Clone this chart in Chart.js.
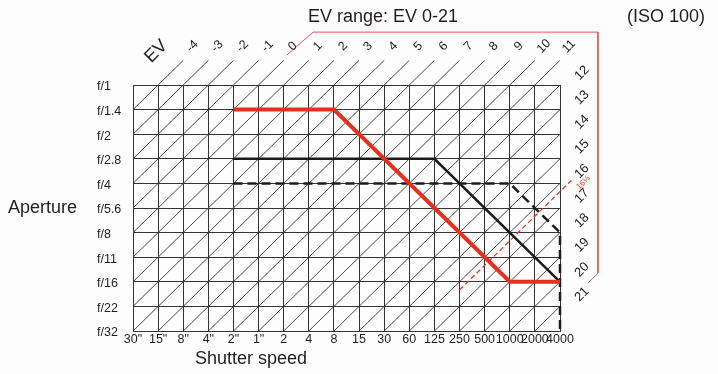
<!DOCTYPE html>
<html>
<head>
  <meta charset="UTF-8">
  <title>EV range</title>
  <script src="https://cdn.jsdelivr.net/npm/chart.js"></script>
  <style>
    html, body { margin: 0; padding: 0; background: #fdfdfd; }
    #wrap { width: 718px; height: 374px; }
  </style>
</head>
<body>
<div id="wrap"><canvas id="evChart" width="718" height="374"></canvas></div>
<script>
  // Axes: shutter speed columns and aperture rows
  const shutterLabels = ['30"', '15"', '8"', '4"', '2"', '1"', '2', '4', '8', '15', '30', '60', '125', '250', '500', '1000', '2000', '4000'];
  const apertureLabels = ['f/1', 'f/1.4', 'f/2', 'f/2.8', 'f/4', 'f/5.6', 'f/8', 'f/11', 'f/16', 'f/22', 'f/32'];

  // EV diagonals (EV at 30" f/1 is -5)
  const evValues = [-4, -3, -2, -1, 0, 1, 2, 3, 4, 5, 6, 7, 8, 9, 10, 11, 12, 13, 14, 15, 16, 17, 18, 19, 20, 21];
  const evAtCorner = -5;

  // metering limit lines
  const redShutter = ['2"', '8', '1000', '4000'];
  const redAperture = ['f/1.4', 'f/1.4', 'f/16', 'f/16'];
  const blackShutter = ['2"', '125', '4000'];
  const blackAperture = ['f/2.8', 'f/2.8', 'f/16'];
  const dashShutter = ['2"', '1000', '4000', '4000'];
  const dashAperture = ['f/4', 'f/4', 'f/8', 'f/32'];

  // EV 16 1/3 limit, drawn from the 250 column up to the right edge
  const flashEV = 16.333;
  const flashLabel = '16⅓';
  const flashFrom = '250';

  // red bracket around the EV range (column / row units)
  const bracketX = [6.13, 7.17, 18.51, 18.51, 18.11];
  const bracketY = [-1.22, -2.15, -2.15, 7.64, 8.05];

  const FONT = '"Liberation Sans Narrow", "Liberation Sans", Arial, sans-serif';
  const INK = '#1e1e1e';
  const RED = '#e5301f';
  const COLS = shutterLabels.length - 1;
  const ROWS = apertureLabels.length - 1;
  const RIGHT_EXT = 0.45;

  function pts(shutters, apertures) {
    return shutters.map((s, i) => ({ x: shutterLabels.indexOf(s), y: apertureLabels.indexOf(apertures[i]) }));
  }

  // one EV line across the grid plus its short extension outside
  function evLine(ev) {
    const s = ev - evAtCorner;
    const lo = s <= ROWS ? { x: 0, y: s } : { x: s - ROWS, y: ROWS };
    const hi = s <= COLS ? { x: s, y: 0 } : { x: COLS, y: s - COLS };
    const ext = s < COLS ? { x: hi.x + 1, y: -1 } : { x: COLS + RIGHT_EXT, y: hi.y - RIGHT_EXT };
    return { lo, hi, ext, top: s < COLS };
  }

  const datasets = [];
  datasets.push({ data: pts(redShutter, redAperture), borderColor: RED, borderWidth: 4, order: 1 });
  datasets.push({ data: pts(blackShutter, blackAperture), borderColor: '#1c1c1c', borderWidth: 2.5, order: 2 });
  datasets.push({ data: pts(dashShutter, dashAperture), borderColor: '#1c1c1c', borderWidth: 2.5, borderDash: [9, 5], order: 2 });

  const fs = flashEV - evAtCorner;
  const fx = shutterLabels.indexOf(flashFrom);
  datasets.push({
    data: [{ x: fx, y: fs - fx }, { x: COLS + RIGHT_EXT, y: fs - COLS - RIGHT_EXT }],
    borderColor: RED, borderWidth: 1.2, borderDash: [5, 3], order: 3
  });
  datasets.push({
    data: bracketX.map((x, i) => ({ x, y: bracketY[i] })),
    borderColor: '#e8564a', borderWidth: 1, order: 3
  });
  evValues.forEach(ev => {
    const l = evLine(ev);
    datasets.push({ data: [l.lo, l.hi, l.ext], borderColor: '#333333', borderWidth: 0.9, order: 5 });
  });
  datasets.forEach(d => {
    d.showLine = true;
    d.pointRadius = 0;
    d.clip = false;
    d.fill = false;
    d.borderJoinStyle = 'miter';
  });

  function rotatedText(ctx, text, x, y, size, color) {
    ctx.save();
    ctx.translate(x, y);
    ctx.rotate(-Math.PI / 4);
    ctx.font = size + 'px ' + FONT;
    ctx.fillStyle = color;
    ctx.textAlign = 'center';
    ctx.textBaseline = 'middle';
    ctx.fillText(text, 0, 0);
    ctx.restore();
  }

  const labelsPlugin = {
    id: 'evLabels',
    afterDraw(chart) {
      const ctx = chart.ctx;
      const xs = chart.scales.x, ys = chart.scales.y;
      const px = v => xs.getPixelForValue(v);
      const py = v => ys.getPixelForValue(v);

      evValues.forEach(ev => {
        const l = evLine(ev);
        if (l.top) {
          rotatedText(ctx, String(ev), px(l.ext.x) + 9, py(l.ext.y) - 14, 12.5, INK);
        } else {
          rotatedText(ctx, String(ev), px(l.hi.x) + 22, py(l.hi.y) - 12, 13, INK);
        }
      });
      rotatedText(ctx, 'EV', px(1) - 2, py(-1) - 9, 18, INK);
      rotatedText(ctx, flashLabel, px(COLS + RIGHT_EXT) + 12, py(fs - COLS - RIGHT_EXT) + 2, 8, RED);

      ctx.save();
      ctx.fillStyle = INK;
      ctx.textBaseline = 'middle';
      ctx.font = '18px ' + FONT;
      ctx.textAlign = 'center';
      ctx.fillText('EV range: EV 0-21', 383, 17);
      ctx.fillText('Shutter speed', 251, 359);
      ctx.textAlign = 'left';
      ctx.fillText('(ISO 100)', 627, 17);
      ctx.fillText('Aperture', 8, 208);
      ctx.restore();
    }
  };

  new Chart(document.getElementById('evChart'), {
    type: 'scatter',
    data: { datasets },
    options: {
      responsive: false,
      animation: false,
      layout: { padding: { left: 97, right: 158, top: 85, bottom: 0 } },
      plugins: { legend: { display: false }, tooltip: { enabled: false } },
      scales: {
        x: {
          type: 'linear', min: 0, max: COLS,
          afterBuildTicks: s => { s.ticks = shutterLabels.map((_, i) => ({ value: i })); },
          afterFit: s => { s.height = 43; },
          ticks: {
            callback: v => shutterLabels[v], autoSkip: false, maxRotation: 0, padding: 1,
            color: INK, font: { family: FONT, size: 12.5 }
          },
          grid: { color: '#333333', lineWidth: 1, drawTicks: false },
          border: { color: '#333333' }
        },
        y: {
          type: 'linear', min: 0, max: ROWS, reverse: true,
          afterBuildTicks: s => { s.ticks = apertureLabels.map((_, i) => ({ value: i })); },
          afterFit: s => { s.width = 36; },
          ticks: {
            callback: v => apertureLabels[v], autoSkip: false, crossAlign: 'far', padding: 0, labelOffset: 2,
            color: INK, font: { family: FONT, size: 12.5 }
          },
          grid: { color: '#333333', lineWidth: 1, drawTicks: false },
          border: { color: '#333333' }
        }
      }
    },
    plugins: [labelsPlugin]
  });
</script>
</body>
</html>
